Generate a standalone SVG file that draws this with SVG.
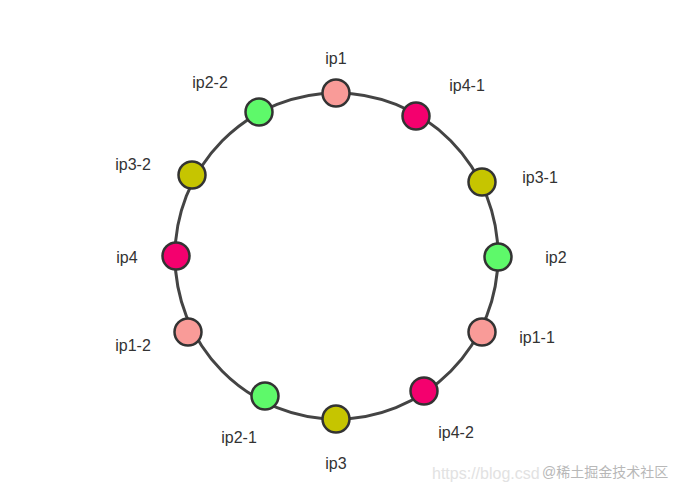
<svg xmlns="http://www.w3.org/2000/svg" width="684" height="495" viewBox="0 0 684 495">
<style>
.lbl{font-family:"Liberation Sans","Noto Sans",Arial,sans-serif;font-size:16px;fill:#333;text-anchor:middle}
.n{stroke:#333;stroke-width:2.5}
.pink{fill:#F99B98}
.green{fill:#5EF96A}
.olive{fill:#C6C500}
.mag{fill:#F4006E}
.ring{fill:none;stroke:#444;stroke-width:3}
</style>
<rect width="684" height="495" fill="#fff"/>
<g id="connectors">
<ellipse class="ring" cx="336.5" cy="256" rx="161.5" ry="163"/>
</g>
<g id="ip1"><circle class="n pink" cx="336" cy="93" r="13.5"/><text class="lbl" x="336" y="64">ip1</text></g>
<g id="ip4-1"><circle class="n mag" cx="416" cy="116" r="13.5"/><text class="lbl" x="467" y="91">ip4-1</text></g>
<g id="ip3-1"><circle class="n olive" cx="482" cy="182" r="13.5"/><text class="lbl" x="540" y="183">ip3-1</text></g>
<g id="ip2"><circle class="n green" cx="498" cy="257" r="13.5"/><text class="lbl" x="556" y="263">ip2</text></g>
<g id="ip1-1"><circle class="n pink" cx="482" cy="332" r="13.5"/><text class="lbl" x="537" y="343">ip1-1</text></g>
<g id="ip4-2"><circle class="n mag" cx="424" cy="391" r="13.5"/><text class="lbl" x="456" y="438">ip4-2</text></g>
<g id="ip3"><circle class="n olive" cx="336" cy="419" r="13.5"/><text class="lbl" x="336" y="469">ip3</text></g>
<g id="ip2-1"><circle class="n green" cx="265" cy="396" r="13.5"/><text class="lbl" x="239" y="443">ip2-1</text></g>
<g id="ip1-2"><circle class="n pink" cx="188" cy="332" r="13.5"/><text class="lbl" x="133" y="351">ip1-2</text></g>
<g id="ip4"><circle class="n mag" cx="176" cy="256" r="13.5"/><text class="lbl" x="127" y="263">ip4</text></g>
<g id="ip3-2"><circle class="n olive" cx="192" cy="175" r="13.5"/><text class="lbl" x="133" y="170">ip3-2</text></g>
<g id="ip2-2"><circle class="n green" cx="259" cy="112" r="13.5"/><text class="lbl" x="210" y="88">ip2-2</text></g>
<g id="watermark">
<text x="432" y="479" font-family="'Liberation Sans',sans-serif" font-size="16" fill="#e2e2e2">https://blog.csd</text>
<text x="542" y="477" font-family="'Liberation Sans','Noto Sans CJK SC',sans-serif" font-size="14" fill="#b8b8b8">@稀土掘金技术社区</text>
</g>
</svg>
